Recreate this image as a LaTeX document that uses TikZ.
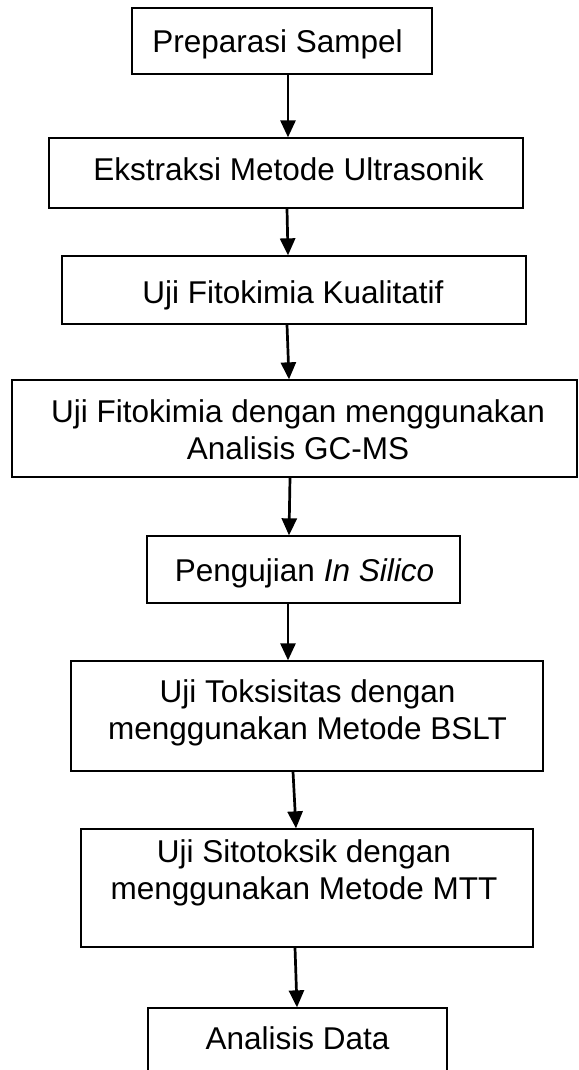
\documentclass[tikz,border=0pt]{standalone}
\usepackage{fontspec}
\setmainfont{Liberation Sans}
\usetikzlibrary{arrows.meta}
\begin{document}
\begin{tikzpicture}[x=1pt,y=-1pt,
  stepbox/.style={draw=black, line width=1.3pt, inner sep=0pt, fill=white},
  boxtext/.style={font=\fontsize{31.5}{37.5}\selectfont, align=center, inner sep=0pt},
  arr/.style={line width=2.7pt, -{Triangle[width=15pt,length=17pt]}}]
\useasboundingbox (0,0) rectangle (578,1070);
\fill[white] (0,0) rectangle (578,1070);
\clip (0,0) rectangle (578,1070);
% boxes
\node[stepbox, minimum width=300pt, minimum height=66pt] (b1) at (282,41) {};
\node[stepbox, minimum width=474pt, minimum height=70pt] (b2) at (286,173) {};
\node[stepbox, minimum width=464pt, minimum height=68pt] (b3) at (294,290) {};
\node[stepbox, minimum width=565pt, minimum height=97pt] (b4) at (294.5,428.5) {};
\node[stepbox, minimum width=313pt, minimum height=67pt] (b5) at (303.5,569.5) {};
\node[stepbox, minimum width=472pt, minimum height=110pt] (b6) at (307,716) {};
\node[stepbox, minimum width=452pt, minimum height=118pt] (b7) at (307,888) {};
\node[stepbox, minimum width=299pt, minimum height=68pt] (b8) at (297.5,1042) {};
% texts
\node[boxtext] (t1) at (277.5,44.8) {Preparasi Sampel};
\node[boxtext] (t2) at (288.5,169.5) {Ekstraksi Metode Ultrasonik};
\node[boxtext] (t3) at (293,295.3) {Uji Fitokimia Kualitatif};
\node[boxtext] (t4) at (298,429.8) {Uji Fitokimia dengan menggunakan\\Analisis GC-MS};
\node[boxtext] (t5) at (304.5,573.3) {Pengujian \textit{In Silico}};
\node[boxtext] (t6) at (307.5,712.6) {Uji Toksisitas dengan\\menggunakan Metode BSLT};
\node[boxtext] (t7) at (304,872.6) {Uji Sitotoksik dengan\\menggunakan Metode MTT};
\node[boxtext] (t8) at (297.5,1038) {Analisis Data};
% arrows
\draw[arr] ([xshift=6pt]b1.south) -- ([xshift=2pt]b2.north);
\draw[arr] ([xshift=1pt]b2.south) -- ([xshift=-6pt]b3.north);
\draw[arr] ([xshift=-7pt]b3.south) -- ([xshift=-5.5pt]b4.north);
\draw[arr] ([xshift=-4.5pt]b4.south) -- ([xshift=-14.5pt]b5.north);
\draw[arr] ([xshift=-15.5pt]b5.south) -- ([xshift=-19pt]b6.north);
\draw[arr] ([xshift=-14pt]b6.south) -- ([xshift=-11pt]b7.north);
\draw[arr] ([xshift=-12pt]b7.south) -- ([xshift=-0.5pt]b8.north);
\end{tikzpicture}
\end{document}
